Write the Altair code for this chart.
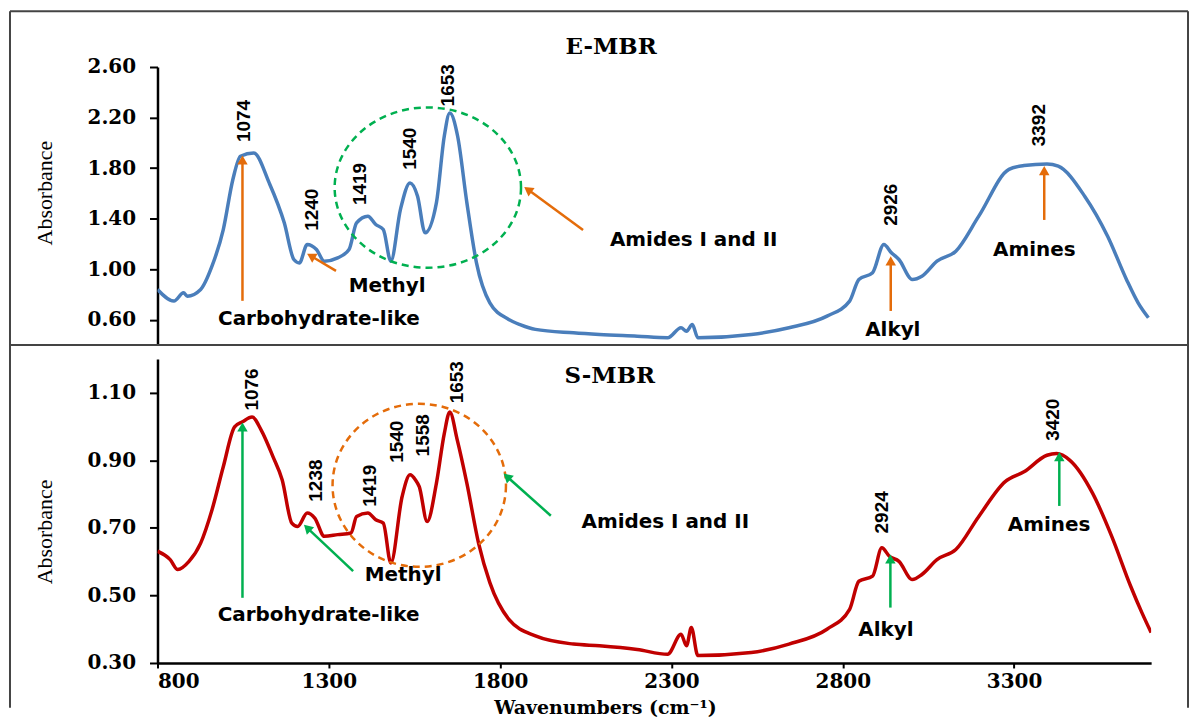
import altair as alt
import pandas as pd

# ---------------- data ----------------
# E-MBR spectrum
e_wn = [800, 848, 876, 887, 926, 959, 992, 1020, 1042, 1081, 1126, 1170, 1198, 1214, 1237, 1264,
        1287, 1326, 1359, 1381, 1414, 1437, 1459, 1481, 1509, 1537, 1559, 1581, 1614, 1637, 1653,
        1676, 1703, 1731, 1770, 1825, 1860, 1903, 2014, 2090, 2200, 2289, 2328, 2344, 2361, 2377,
        2533, 2643, 2754, 2820, 2847, 2887, 2920, 2942, 2964, 3003, 3031, 3075, 3130, 3197, 3285,
        3329, 3396, 3429, 3506, 3573, 3628, 3662, 3692]
e_ab = [0.84, 0.748, 0.813, 0.787, 0.84, 1.024, 1.314, 1.71, 1.894, 1.92, 1.683, 1.367, 1.077,
        1.05, 1.196, 1.156, 1.064, 1.09, 1.156, 1.367, 1.42, 1.354, 1.314, 1.064, 1.472, 1.683,
        1.578, 1.288, 1.525, 2.052, 2.236, 2.052, 1.525, 1.05, 0.734, 0.603, 0.56, 0.524, 0.497,
        0.484, 0.47, 0.458, 0.537, 0.51, 0.563, 0.458, 0.484, 0.537, 0.629, 0.748, 0.919, 0.972,
        1.196, 1.13, 1.077, 0.919, 0.945, 1.064, 1.143, 1.42, 1.79, 1.82, 1.833, 1.815, 1.578,
        1.261, 0.919, 0.734, 0.616]

# S-MBR spectrum
s_wn = [800, 837, 859, 892, 926, 959, 992, 1025, 1048, 1076, 1103, 1137, 1164, 1192, 1209, 1237,
        1259, 1287, 1326, 1365, 1381, 1414, 1437, 1459, 1481, 1514, 1537, 1553, 1564, 1587, 1614,
        1637, 1653, 1675, 1703, 1737, 1770, 1825, 1903, 2014, 2090, 2200, 2289, 2328, 2344, 2358,
        2377, 2533, 2643, 2754, 2820, 2847, 2887, 2914, 2936, 2964, 3003, 3031, 3075, 3130, 3197,
        3274, 3329, 3396, 3424, 3463, 3529, 3585, 3640, 3673, 3700]
s_ab = [0.631, 0.606, 0.577, 0.601, 0.655, 0.753, 0.881, 0.999, 1.014, 1.028, 0.989, 0.911, 0.842,
        0.714, 0.704, 0.744, 0.729, 0.675, 0.68, 0.685, 0.734, 0.744, 0.724, 0.714, 0.596, 0.793,
        0.857, 0.842, 0.822, 0.719, 0.832, 0.979, 1.043, 0.96, 0.832, 0.655, 0.538, 0.43, 0.38,
        0.356, 0.351, 0.34, 0.326, 0.385, 0.351, 0.405, 0.322, 0.331, 0.356, 0.40, 0.459, 0.542,
        0.557, 0.641, 0.616, 0.601, 0.547, 0.562, 0.606, 0.636, 0.734, 0.837, 0.866, 0.915, 0.92,
        0.9, 0.803, 0.675, 0.528, 0.449, 0.39]

x_ticks = [800, 1300, 1800, 2300, 2800, 3300]
e_yticks = [0.6, 1.0, 1.4, 1.8, 2.2, 2.6]
s_yticks = [0.3, 0.5, 0.7, 0.9, 1.1]

# panel titles (position in data units of each panel)
e_title = ["E-MBR"]
e_title_x = [2124]
e_title_y = [2.70]
s_title = ["S-MBR"]
s_title_x = [2120]
s_title_y = [1.129]

# peak labels (vertical text)
e_peak_text = ["1074", "1240", "1419", "1540", "1653", "2926", "3392"]
e_peak_x = [1053, 1250, 1392, 1537, 1648, 2942, 3374]
e_peak_y = [2.173, 1.47, 1.675, 1.953, 2.455, 1.51, 2.14]
s_peak_text = ["1076", "1238", "1419", "1540", "1558", "1653", "2924", "3420"]
s_peak_x = [1076, 1264, 1420, 1498, 1575, 1675, 2915, 3413]
s_peak_y = [1.11, 0.84, 0.825, 0.955, 0.974, 1.131, 0.746, 1.02]

# group labels
e_lab_text = ["Carbohydrate-like", "Methyl", "Amides I and II", "Alkyl", "Amines"]
e_lab_x = [1271, 1470, 2365, 2946, 3359]
e_lab_y = [0.61, 0.87, 1.232, 0.52, 1.153]
s_lab_text = ["Carbohydrate-like", "Methyl", "Amides I and II", "Alkyl", "Amines"]
s_lab_x = [1270, 1517, 2282, 2926, 3402]
s_lab_y = [0.441, 0.559, 0.718, 0.397, 0.709]

# arrows: tail (x1, y1) -> head (x2, y2), head rotation
e_arr_x1 = [1048, 1321, 2042, 2940, 3388]
e_arr_y1 = [0.75, 0.987, 1.31, 0.67, 1.39]
e_arr_x2 = [1048, 1248, 1881, 2940, 3388]
e_arr_y2 = [1.865, 1.105, 1.63, 1.066, 1.78]
e_arr_ang = [0, 301, 306, 0, 0]
s_arr_x1 = [1048, 1371, 1948, 2939, 3432]
s_arr_y1 = [0.493, 0.572, 0.736, 0.464, 0.765]
s_arr_x2 = [1048, 1237, 1820, 2939, 3432]
s_arr_y2 = [0.999, 0.70, 0.852, 0.608, 0.911]
s_arr_ang = [0, 314, 312, 0, 0]

# dashed circles (centre in data units)
e_circ_x = [1589]
e_circ_y = [1.646]
s_circ_x = [1564]
s_circ_y = [0.826]

BLUE = "#4A7EBB"
RED = "#C00000"
ORANGE = "#E46C0A"
GREEN = "#00B050"


def ellipse_path(ry):
    k = 0.5523
    return (f"M 1 0 C 1 {k*ry:.4f} {k:.4f} {ry:.4f} 0 {ry:.4f} "
            f"C {-k:.4f} {ry:.4f} -1 {k*ry:.4f} -1 0 "
            f"C -1 {-k*ry:.4f} {-k:.4f} {-ry:.4f} 0 {-ry:.4f} "
            f"C {k:.4f} {-ry:.4f} 1 {-k*ry:.4f} 1 0 Z")


W = 997


def panel(wn, ab, color, ydom, yticks, ytitle_y, height, show_x,
          pk_t, pk_x, pk_y, lb_t, lb_x, lb_y,
          ax1, ay1, ax2, ay2, aang, arrow_color,
          cx, cy, circ_w, circ_ry, circ_color,
          tt, tx, ty, frame):
    xs = alt.Scale(domain=[800, 3700], nice=False, zero=False)
    ys = alt.Scale(domain=ydom, nice=False, zero=False)
    if show_x:
        xaxis = alt.Axis(values=x_ticks, format="d", grid=False, domainColor="black",
                         domainWidth=2.5, tickColor="black", tickWidth=2, tickSize=5,
                         labelFont="DejaVu Serif", labelFontWeight="bold", labelFontSize=20,
                         labelColor="black", labelPadding=4,
                         title="Wavenumbers  (cm⁻¹)", titleFont="DejaVu Serif",
                         titleFontWeight="bold", titleFontSize=19, titleColor="black",
                         titleX=449, titleY=51, titleBaseline="alphabetic", titleAlign="center")
        xenc = alt.X("wn:Q", scale=xs, axis=xaxis)
    else:
        xenc = alt.X("wn:Q", scale=xs, axis=None)
    yaxis = alt.Axis(values=yticks, format=".2f", grid=False, domainColor="black",
                     domainWidth=2.5, tickColor="black", tickWidth=2, tickSize=8,
                     labelFont="DejaVu Serif", labelFontWeight="bold", labelFontSize=20,
                     labelColor="black", labelPadding=14,
                     title="Absorbance", titleFont="Liberation Serif", titleFontWeight="normal",
                     titleFontSize=22, titleColor="black", titleAngle=270,
                     titleX=-106, titleY=ytitle_y, titleBaseline="alphabetic", titleAlign="center")
    yenc = alt.Y("ab:Q", scale=ys, axis=yaxis)

    curve = alt.Chart(pd.DataFrame({"wn": wn, "ab": ab})).mark_line(
        color=color, strokeWidth=3.5, interpolate="monotone", clip=True
    ).encode(x=xenc, y=yenc)

    circ = alt.Chart(pd.DataFrame({"wn": cx, "ab": cy})).mark_point(
        shape=ellipse_path(circ_ry), size=circ_w * circ_w, filled=False,
        stroke=circ_color, strokeWidth=2.5, strokeDash=[7, 5], opacity=1
    ).encode(x=xenc, y=yenc)

    shaft_df = pd.DataFrame({"wn": ax1, "ab": ay1, "wn2": ax2, "ab2": ay2})
    shafts = alt.Chart(shaft_df).mark_rule(color=arrow_color, strokeWidth=2.5).encode(
        x=xenc, y=yenc, x2="wn2:Q", y2="ab2:Q")
    head_df = pd.DataFrame({"wn": ax2, "ab": ay2, "ang": aang})
    heads = alt.Chart(head_df).mark_point(
        shape="triangle-up", filled=True, size=110, color=arrow_color, opacity=1
    ).encode(x=xenc, y=yenc, angle=alt.Angle("ang:Q", scale=None))

    peaks = alt.Chart(pd.DataFrame({"wn": pk_x, "ab": pk_y, "t": pk_t})).mark_text(
        angle=270, font="Liberation Sans Narrow, Arial Narrow, Liberation Sans, sans-serif",
        fontWeight="bold", fontSize=19, color="black", align="center", baseline="middle"
    ).encode(x=xenc, y=yenc, text="t:N")

    labels = alt.Chart(pd.DataFrame({"wn": lb_x, "ab": lb_y, "t": lb_t})).mark_text(
        font="DejaVu Sans", fontWeight="bold", fontSize=20, color="black",
        align="center", baseline="middle"
    ).encode(x=xenc, y=yenc, text="t:N")

    title = alt.Chart(pd.DataFrame({"wn": tx, "ab": ty, "t": tt})).mark_text(
        font="DejaVu Serif", fontWeight="bold", fontSize=23, color="black",
        align="center", baseline="alphabetic"
    ).encode(x=xenc, y=yenc, text="t:N")

    # decorative frame lines of the figure (pixel positions)
    one = pd.DataFrame({"k": [0]})
    frame_layers = []
    for (fx, fx2, fy, fy2) in frame:
        if fx2 is None:
            frame_layers.append(alt.Chart(one).mark_rule(color="#444444", strokeWidth=2).encode(
                x=alt.value(fx), y=alt.value(fy), y2=alt.value(fy2)))
        else:
            frame_layers.append(alt.Chart(one).mark_rule(color="#444444", strokeWidth=2).encode(
                x=alt.value(fx), x2=alt.value(fx2), y=alt.value(fy)))

    return alt.layer(curve, circ, shafts, heads, peaks, labels, title, *frame_layers).properties(
        width=W, height=height)


top = panel(e_wn, e_ab, BLUE, [0.4, 2.6], e_yticks, 126, 279, False,
            e_peak_text, e_peak_x, e_peak_y, e_lab_text, e_lab_x, e_lab_y,
            e_arr_x1, e_arr_y1, e_arr_x2, e_arr_y2, e_arr_ang, ORANGE,
            e_circ_x, e_circ_y, 187, 0.86, GREEN,
            e_title, e_title_x, e_title_y,
            [(-148, None, -56, 279), (1034, None, -56, 279),
             (-148, 1034, -56, None), (-148, 1034, 279, None)])

bottom = panel(s_wn, s_ab, RED, [0.3, 1.2], s_yticks, 173, 305, True,
               s_peak_text, s_peak_x, s_peak_y, s_lab_text, s_lab_x, s_lab_y,
               s_arr_x1, s_arr_y1, s_arr_x2, s_arr_y2, s_arr_ang, GREEN,
               s_circ_x, s_circ_y, 174, 0.94, ORANGE,
               s_title, s_title_x, s_title_y,
               [(-148, None, -14, 350), (1034, None, -14, 350)])

chart = alt.vconcat(top, bottom, spacing=14, bounds="flush").properties(
    padding=0, background="white"
).configure_view(stroke="transparent")

chart.save("out.html", embed_options={"renderer": "svg", "actions": False})
